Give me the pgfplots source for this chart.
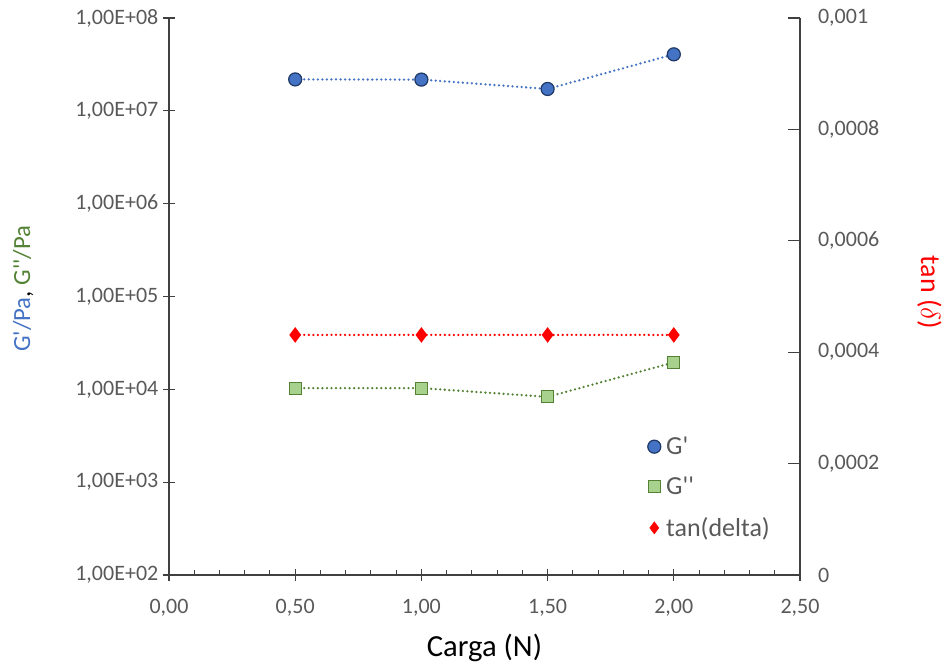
\documentclass[border=0pt]{standalone}
\usepackage{fontspec}
\setmainfont{Carlito}
\usepackage{pgfplots}
\usepackage{pgfplotstable}
\pgfplotsset{compat=1.18}
\definecolor{gblue}{HTML}{4472C4}
\definecolor{gedge}{HTML}{1F3864}
\definecolor{ggreen}{HTML}{A9D18E}
\definecolor{gdkgreen}{HTML}{548235}
\definecolor{txtgray}{HTML}{595959}
\definecolor{axgray}{HTML}{404040}
\newcommand{\pr}{\textquotesingle}
\pgfplotstableread{
x Gp Gpp tand
0.5 2.18e7 1.03e4 0.000431
1.0 2.17e7 1.03e4 0.000431
1.5 1.72e7 8.3e3 0.000431
2.0 4.06e7 1.95e4 0.000431
}\data
\pgfplotsset{common/.style={
  scale only axis, width=473.25pt, height=417.75pt,
  xmin=0, xmax=2.5,
  /pgf/number format/assume math mode=true,
  tick label style={font=\fontsize{16.5}{19}\selectfont, text=txtgray},
  axis line style={axgray, line width=0.8pt},
  tick style={axgray, line width=0.8pt},
  major tick length=9pt, minor tick length=3.5pt,
  scaled y ticks=false,
}}
\begin{document}
\begin{tikzpicture}
\begin{axis}[common, name=main, tick align=center,
  axis x line*=bottom, axis y line*=left,
  ymode=log, ymin=1e2, ymax=1e8,
  ytick={1e2,1e3,1e4,1e5,1e6,1e7,1e8},
  yticklabels={{1,00E+02},{1,00E+03},{1,00E+04},{1,00E+05},{1,00E+06},{1,00E+07},{1,00E+08}},
  minor y tick style={draw=none},
  xtick={0,0.5,1,1.5,2,2.5},
  xticklabels={{0,00},{0,50},{1,00},{1,50},{2,00},{2,50}},
  xticklabel style={yshift=-10pt},
  minor x tick num=4,
  minor x tick style={yshift=1.75pt},
  xlabel={Carga (N)},
  xlabel style={at={(axis description cs:0.5,-0.131)}, anchor=center, text=black,
    font=\fontsize{23}{27}\selectfont},
  ylabel={{\color{gblue}G\pr/Pa}, {\color{gdkgreen}G\pr\pr/Pa}},
  ylabel style={at={(axis description cs:-0.231,0.514)}, anchor=center,
    font=\fontsize{18.5}{22}\selectfont},
]
\addplot[gblue, line width=1.9pt, dash pattern=on 0pt off 3.4pt, line cap=round,
  mark=*, mark size=4.9pt, mark options={solid, fill=gblue, draw=gedge, line width=0.9pt}]
  table[x=x,y=Gp]{\data};
\addplot[gdkgreen, line width=1.9pt, dash pattern=on 0pt off 3.4pt, line cap=round,
  mark=square*, mark size=4.5pt, mark options={solid, fill=ggreen, draw=gdkgreen, line width=0.8pt}]
  table[x=x,y=Gpp]{\data};
\end{axis}
\begin{axis}[common, tick align=inside,
  axis x line=none, axis y line*=right,
  ymin=0, ymax=0.001,
  ytick={0,0.0002,0.0004,0.0006,0.0008,0.001},
  yticklabels={0,{0,0002},{0,0004},{0,0006},{0,0008},{0,001}},
  yticklabel style={xshift=10pt},
  ylabel={tan ($\delta$)},
  ylabel style={at={(axis description cs:1.205,0.507)}, anchor=center, rotate=180, text=red,
    font=\fontsize{21}{25}\selectfont},
  legend style={draw=none, fill=none, at={(axis description cs:0.752,0.258)}, anchor=north west,
    font=\fontsize{19.5}{23}\selectfont, text=txtgray, row sep=11.5pt,
    /tikz/every odd column/.append style={column sep=2pt}},
  legend cell align=left,
]
\addlegendimage{only marks, mark=*, mark size=4.9pt, mark options={fill=gblue, draw=gedge, line width=0.9pt}}
\addlegendentry{G\pr}
\addlegendimage{only marks, mark=square*, mark size=4.5pt, mark options={fill=ggreen, draw=gdkgreen, line width=0.8pt}}
\addlegendentry{G\pr\pr}
\addlegendimage{only marks, mark=diamond*, mark size=4.5pt, mark options={fill=red, draw=red}}
\addlegendentry{tan(delta)}
\addplot[red, line width=1.9pt, dash pattern=on 0pt off 3.4pt, line cap=round, forget plot,
  mark=diamond*, mark size=4.3pt, mark options={solid, fill=red, draw=red}]
  table[x=x,y=tand]{\data};
\end{axis}
\pgfresetboundingbox
\path ([shift={(-126.75pt,-66.75pt)}]main.south west) rectangle ([shift={(114pt,13.5pt)}]main.north east);
\end{tikzpicture}
\end{document}
